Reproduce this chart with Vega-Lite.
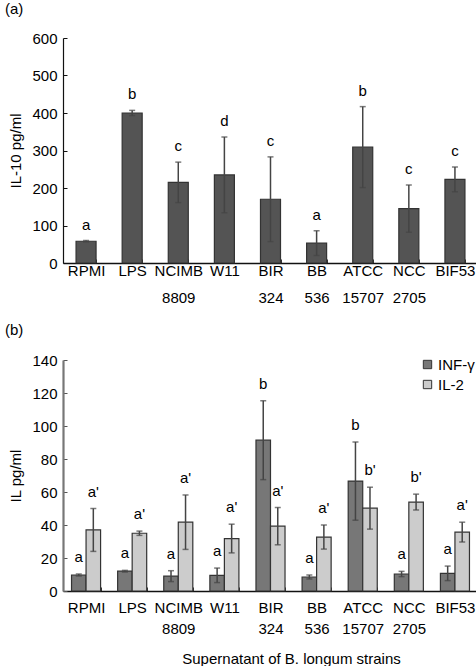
{
  "$schema": "https://vega.github.io/schema/vega-lite/v6.json",
  "padding": {"left": 4, "top": 2, "right": 0, "bottom": 0},
  "config": {
    "font": "Liberation Sans",
    "view": {"stroke": null},
    "concat": {"spacing": 18},
    "axis": {"labelColor": "#000", "titleColor": "#000", "labelFontSize": 15, "titleFontSize": 15, "titleFontWeight": "normal", "grid": false, "labelOverlap": false},
    "legend": {"padding": 0}
  },
  "resolve": {"legend": {"color": "independent"}},
  "datasets": {
    "il10": [
      {"strain": "RPMI", "mean": 58, "lo": 56, "hi": 60, "letter": "a"},
      {"strain": "LPS", "mean": 400, "lo": 393, "hi": 407, "letter": "b"},
      {"strain": "NCIMB 8809", "mean": 215, "lo": 161, "hi": 269, "letter": "c"},
      {"strain": "W11", "mean": 235, "lo": 134, "hi": 336, "letter": "d"},
      {"strain": "BIR 324", "mean": 170, "lo": 57, "hi": 283, "letter": "c"},
      {"strain": "BB 536", "mean": 53, "lo": 20, "hi": 86, "letter": "a"},
      {"strain": "ATCC 15707", "mean": 309, "lo": 201, "hi": 417, "letter": "b"},
      {"strain": "NCC 2705", "mean": 145, "lo": 82, "hi": 208, "letter": "c"},
      {"strain": "BIF53", "mean": 223, "lo": 190, "hi": 256, "letter": "c"}
    ],
    "il": [
      {"strain": "RPMI", "cyto": "INF-γ", "mean": 9.7, "lo": 9.1, "hi": 10.3, "letter": "a"},
      {"strain": "RPMI", "cyto": "IL-2", "mean": 37, "lo": 24, "hi": 50, "letter": "a'"},
      {"strain": "LPS", "cyto": "INF-γ", "mean": 12, "lo": 11.5, "hi": 12.5, "letter": "a"},
      {"strain": "LPS", "cyto": "IL-2", "mean": 35, "lo": 33.7, "hi": 36.3, "letter": "a'"},
      {"strain": "NCIMB 8809", "cyto": "INF-γ", "mean": 9, "lo": 5.7, "hi": 12.3, "letter": "a"},
      {"strain": "NCIMB 8809", "cyto": "IL-2", "mean": 41.7, "lo": 25.2, "hi": 58.2, "letter": "a'"},
      {"strain": "W11", "cyto": "INF-γ", "mean": 9.5, "lo": 5.1, "hi": 13.9, "letter": "a"},
      {"strain": "W11", "cyto": "IL-2", "mean": 31.8, "lo": 23.1, "hi": 40.5, "letter": "a'"},
      {"strain": "BIR 324", "cyto": "INF-γ", "mean": 91.4, "lo": 67.5, "hi": 115.3, "letter": "b"},
      {"strain": "BIR 324", "cyto": "IL-2", "mean": 39.3, "lo": 28, "hi": 50.6, "letter": "a'"},
      {"strain": "BB 536", "cyto": "INF-γ", "mean": 8.5, "lo": 7.3, "hi": 9.7, "letter": "a"},
      {"strain": "BB 536", "cyto": "IL-2", "mean": 32.7, "lo": 25.4, "hi": 40, "letter": "a'"},
      {"strain": "ATCC 15707", "cyto": "INF-γ", "mean": 66.6, "lo": 42.9, "hi": 90.3, "letter": "b"},
      {"strain": "ATCC 15707", "cyto": "IL-2", "mean": 50.2, "lo": 37.5, "hi": 62.9, "letter": "b'"},
      {"strain": "NCC 2705", "cyto": "INF-γ", "mean": 10.3, "lo": 8.7, "hi": 11.9, "letter": "a"},
      {"strain": "NCC 2705", "cyto": "IL-2", "mean": 53.9, "lo": 49.1, "hi": 58.7, "letter": "b'"},
      {"strain": "BIF53", "cyto": "INF-γ", "mean": 10.7, "lo": 6.3, "hi": 15.1, "letter": "a"},
      {"strain": "BIF53", "cyto": "IL-2", "mean": 35.7, "lo": 29.7, "hi": 41.7, "letter": "a'"}
    ]
  },
  "vconcat": [
    {
      "width": 415,
      "height": 225,
      "title": {"text": "(a)", "anchor": "start", "frame": "bounds", "fontSize": 15, "fontWeight": "normal", "offset": 14, "dx": -4, "color": "#000"},
      "data": {"name": "il10"},
      "encoding": {
        "x": {
          "field": "strain", "type": "nominal", "sort": null,
          "scale": {"paddingInner": 0.566, "paddingOuter": 0.283},
          "axis": {"title": null, "labelAngle": 0, "labelExpr": "split(datum.label, ' ')", "labelLineHeight": 27, "labelPadding": 4, "labelBaseline": "top", "tickBand": "extent", "tickSize": -4, "tickColor": "#333", "domainColor": "#111", "domainWidth": 1.5}
        }
      },
      "layer": [
        {
          "mark": {"type": "bar", "fill": "#545454", "stroke": "#333333", "strokeWidth": 1.2},
          "encoding": {
            "y": {"field": "mean", "type": "quantitative", "title": "IL-10 pg/ml", "scale": {"domain": [0, 600]},
              "axis": {"values": [0, 100, 200, 300, 400, 500, 600], "tickSize": -4, "labelPadding": 10, "titlePadding": 8, "domainColor": "#111", "tickColor": "#111", "domainWidth": 1.2}}
          }
        },
        {
          "mark": {"type": "rule", "color": "#444444", "strokeWidth": 1.5},
          "encoding": {"y": {"field": "lo", "type": "quantitative", "title": "IL-10 pg/ml",
              "axis": {"values": [0, 100, 200, 300, 400, 500, 600], "tickSize": -4, "labelPadding": 10, "titlePadding": 8, "domainColor": "#111", "tickColor": "#111", "domainWidth": 1.2}}, "y2": {"field": "hi"}}
        },
        {
          "mark": {"type": "tick", "color": "#444444", "size": 6, "thickness": 1.5, "orient": "horizontal"},
          "encoding": {"y": {"field": "hi", "type": "quantitative", "title": "IL-10 pg/ml",
              "axis": {"values": [0, 100, 200, 300, 400, 500, 600], "tickSize": -4, "labelPadding": 10, "titlePadding": 8, "domainColor": "#111", "tickColor": "#111", "domainWidth": 1.2}}}
        },
        {
          "mark": {"type": "tick", "color": "#444444", "size": 6, "thickness": 1.5, "orient": "horizontal"},
          "encoding": {"y": {"field": "lo", "type": "quantitative", "title": "IL-10 pg/ml",
              "axis": {"values": [0, 100, 200, 300, 400, 500, 600], "tickSize": -4, "labelPadding": 10, "titlePadding": 8, "domainColor": "#111", "tickColor": "#111", "domainWidth": 1.2}}}
        },
        {
          "mark": {"type": "text", "fontSize": 15, "dy": -11, "baseline": "alphabetic", "color": "#000"},
          "encoding": {"y": {"field": "hi", "type": "quantitative", "title": "IL-10 pg/ml",
              "axis": {"values": [0, 100, 200, 300, 400, 500, 600], "tickSize": -4, "labelPadding": 10, "titlePadding": 8, "domainColor": "#111", "tickColor": "#111", "domainWidth": 1.2}}, "text": {"field": "letter"}}
        }
      ]
    },
    {
      "width": 415,
      "height": 231,
      "title": {"text": "(b)", "anchor": "start", "frame": "bounds", "fontSize": 15, "fontWeight": "normal", "offset": 15, "dx": -4, "color": "#000"},
      "data": {"name": "il"},
      "encoding": {
        "x": {
          "field": "strain", "type": "nominal", "sort": null,
          "scale": {"paddingInner": 0.37, "paddingOuter": 0.185},
          "axis": {"title": "Supernatant of B. longum strains", "titleX": 228, "titlePadding": 15, "labelAngle": 0, "labelExpr": "split(datum.label, ' ')", "labelLineHeight": 21, "labelPadding": 13, "labelBaseline": "top", "tickBand": "extent", "tickSize": -4, "tickColor": "#333", "domainColor": "#111", "domainWidth": 1.5}
        },
        "xOffset": {"field": "cyto", "type": "nominal", "sort": ["INF-γ", "IL-2"], "scale": {"paddingInner": 0, "paddingOuter": 0}}
      },
      "layer": [
        {
          "mark": {"type": "bar", "stroke": "#333333", "strokeWidth": 1.2},
          "encoding": {
            "y": {"field": "mean", "type": "quantitative", "title": "IL pg/ml", "scale": {"domain": [0, 140]},
              "axis": {"values": [0, 20, 40, 60, 80, 100, 120, 140], "tickSize": -4, "labelPadding": 10, "titlePadding": 8, "domainColor": "#777", "tickColor": "#555", "domainWidth": 2.2}},
            "color": {"field": "cyto", "type": "nominal",
              "scale": {"domain": ["INF-γ", "IL-2"], "range": ["#777777", "#cccccc"]},
              "legend": {"title": null, "orient": "none", "legendX": 357, "legendY": -3, "symbolType": "square", "symbolSize": 70, "symbolStrokeColor": "#333", "symbolStrokeWidth": 1, "symbolOpacity": 1, "labelFontSize": 15, "labelColor": "#000", "labelOffset": 3, "rowPadding": 4}}
          }
        },
        {
          "mark": {"type": "rule", "color": "#444444", "strokeWidth": 1.5},
          "encoding": {"y": {"field": "lo", "type": "quantitative", "title": "IL pg/ml",
              "axis": {"values": [0, 20, 40, 60, 80, 100, 120, 140], "tickSize": -4, "labelPadding": 10, "titlePadding": 8, "domainColor": "#777", "tickColor": "#555", "domainWidth": 2.2}}, "y2": {"field": "hi"}}
        },
        {
          "mark": {"type": "tick", "color": "#444444", "size": 6, "thickness": 1.5, "orient": "horizontal"},
          "encoding": {"y": {"field": "hi", "type": "quantitative", "title": "IL pg/ml",
              "axis": {"values": [0, 20, 40, 60, 80, 100, 120, 140], "tickSize": -4, "labelPadding": 10, "titlePadding": 8, "domainColor": "#777", "tickColor": "#555", "domainWidth": 2.2}}}
        },
        {
          "mark": {"type": "tick", "color": "#444444", "size": 6, "thickness": 1.5, "orient": "horizontal"},
          "encoding": {"y": {"field": "lo", "type": "quantitative", "title": "IL pg/ml",
              "axis": {"values": [0, 20, 40, 60, 80, 100, 120, 140], "tickSize": -4, "labelPadding": 10, "titlePadding": 8, "domainColor": "#777", "tickColor": "#555", "domainWidth": 2.2}}}
        },
        {
          "mark": {"type": "text", "fontSize": 15, "dy": -12, "baseline": "alphabetic", "color": "#000"},
          "encoding": {"y": {"field": "hi", "type": "quantitative", "title": "IL pg/ml",
              "axis": {"values": [0, 20, 40, 60, 80, 100, 120, 140], "tickSize": -4, "labelPadding": 10, "titlePadding": 8, "domainColor": "#777", "tickColor": "#555", "domainWidth": 2.2}}, "text": {"field": "letter"}}
        }
      ]
    }
  ]
}
